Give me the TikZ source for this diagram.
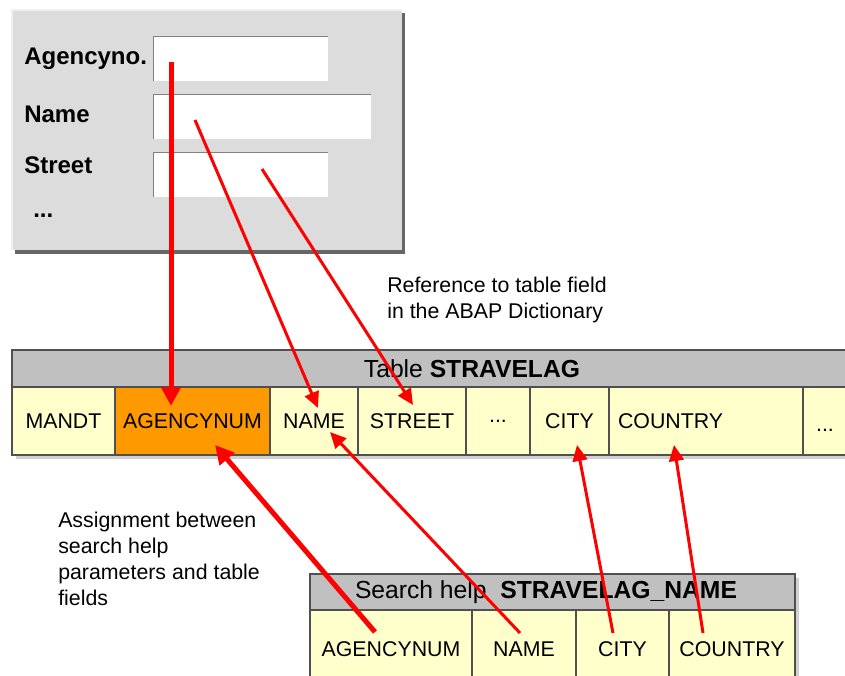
\documentclass[tikz,border=0pt]{standalone}
\usepackage{fontspec}
\setmainfont{Liberation Sans}
\usetikzlibrary{arrows.meta,calc}
\definecolor{formgray}{HTML}{DCDCDC}
\definecolor{bandgray}{HTML}{C0C0C0}
\definecolor{cellyellow}{HTML}{FFFFCC}
\definecolor{keyorange}{HTML}{FF9900}
\definecolor{edgegray}{HTML}{505050}
\tikzset{
  cell/.style={draw=edgegray, line width=1.5pt, fill=cellyellow, inner sep=0pt, font=\fontsize{16}{19.5}\selectfont},
  band/.style={draw=edgegray, line width=1.5pt, fill=bandgray},
  bandtitle/.style={inner sep=0pt, font=\fontsize{18.5}{22}\selectfont},
  inbox/.style={fill=white, inner sep=0pt, minimum height=33pt},
  flabel/.style={anchor=west, inner sep=0pt, font=\fontsize{18}{22}\selectfont\bfseries},
  note/.style={anchor=west, align=left, inner sep=0pt, font=\fontsize{16}{19.5}\selectfont},
  ref/.style={draw=red, line width=2.25pt, -{Triangle[length=12pt,width=11pt]}},
  refkey/.style={ref, line width=3.75pt, -{Triangle[length=14pt,width=14pt]}}
}
\begin{document}
\begin{tikzpicture}[x=0.75pt, y=-0.75pt]
\useasboundingbox (0,0) rectangle (845,675);
% input form
\fill[black!60] (15,13) rectangle (405,254);
\fill[formgray] (12,10) rectangle (402,250);
\draw[black!6, line width=1.5pt] (12,250) |- (402,10);
\node[flabel] (lagency) at (24,59) {Agencyno.};
\node[flabel] (lname) at (24,114) {Name};
\node[flabel] (lstreet) at (24,165) {Street};
\node[flabel] (lmore) at (33,216) {...};
\node[inbox, minimum width=130.5pt] (fagency) at (241,59) {};
\node[inbox, minimum width=162.75pt] (fname) at (262.5,117) {};
\node[inbox, minimum width=130.5pt] (fstreet) at (241,175) {};
\foreach \f in {fagency,fname,fstreet}
  \draw[gray, line width=0.75pt] (\f.south west) |- (\f.north east);
\node[note] (refnote) at (387,300) {Reference to table field\\in the ABAP Dictionary};
% table STRAVELAG
\fill[black!18] (16,354) rectangle (864,459);
\draw[band] (12,350) rectangle (860,387);
\node[bandtitle] (ttitle) at (472,369) {Table \textbf{STRAVELAG}};
\foreach \nm/\cx/\w/\txt in {tmandt/63.5/77.25/MANDT, tname/314/66/NAME,
    tstreet/412/81/STREET, tcity/569.5/59.25/CITY}
  \node[cell, minimum width=\w pt, minimum height=51pt] (\nm) at (\cx,421) {\txt};
\node[cell, minimum width=48pt, minimum height=51pt] (tmore) at (498,421) {...};
\node[cell, fill=keyorange, minimum width=116.25pt, minimum height=51pt] (tagency) at (192.5,421) {AGENCYNUM};
\node[cell, minimum height=51pt, text width=132pt, inner xsep=6.75pt, align=left] (tcountry) at (706,421) {COUNTRY};
\node[cell, minimum width=42pt, minimum height=51pt] (tlast) at (831,421) {};
\node[font=\fontsize{16}{19.5}\selectfont] (tlastdots) at (825,430) {...};
% search help STRAVELAG_NAME
\fill[black!18] (314,578) rectangle (799,690);
\draw[band] (310,574) rectangle (795,610);
\node[bandtitle] (stitle) at (546,592) {Search help\ \ \textbf{STRAVELAG\_NAME}};
\foreach \nm/\cx/\w/\txt in {sagency/391/121.5/AGENCYNUM, sname/524/78/NAME,
    scity/622.5/69.75/CITY, scountry/732/94.5/COUNTRY}
  \node[cell, minimum width=\w pt, minimum height=58.5pt] (\nm) at (\cx,649) {\txt};
\node[note] (assign) at (58,559) {Assignment between\\search help\\parameters and table\\fields};
% references
\draw[refkey] ($(fagency)+(-70,3)$) -- ($(tagency)+(-21.5,-15)$);
\draw[ref] ($(fname)+(-67.5,3)$) -- ($(tname)+(4,-13)$);
\draw[ref] ($(fstreet)+(21,-6)$) -- ($(tstreet)+(1,-16)$);
\draw[refkey] ($(sagency)+(-16,-17)$) -- ($(tagency)+(22.5,24)$);
\draw[ref] ($(sname)+(-4,-16)$) -- ($(tname)+(16,11)$);
\draw[ref] ($(scity)+(-9.5,-16)$) -- ($(tcity)+(7.5,24)$);
\draw[ref] ($(scountry)+(-29,-16)$) -- ($(tcountry)+(-32,24)$);
\end{tikzpicture}
\end{document}
